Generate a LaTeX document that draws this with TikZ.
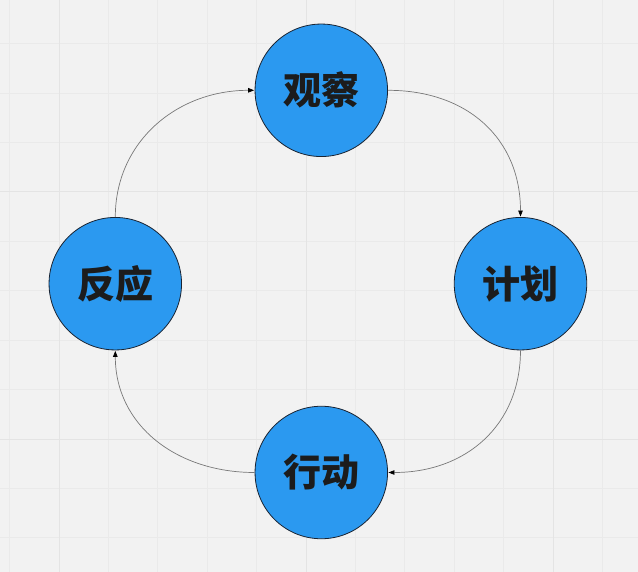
\documentclass[tikz,border=0pt]{standalone}
\usepackage{fontspec}
\newfontfamily\cjk{Noto Sans CJK SC}
\usetikzlibrary{arrows.meta}
\definecolor{bgc}{RGB}{242,242,242}
\definecolor{gridminor}{RGB}{234,234,234}
\definecolor{gridmajor}{RGB}{228,228,228}
\definecolor{circfill}{RGB}{43,153,240}
\definecolor{circline}{RGB}{25,35,50}
\definecolor{linkc}{RGB}{120,120,120}
\definecolor{txtc}{RGB}{28,28,28}
\tikzset{
  stage/.style={circle, draw=circline, line width=0.8pt, fill=circfill,
    minimum size=132.5pt, inner sep=0pt,
    font=\cjk\bfseries\fontsize{38}{40}\selectfont, text=txtc},
  link/.style={draw=linkc, line width=0.7pt,
    -{Triangle[length=6pt,width=4.5pt,color=black]}, shorten >=0.5pt}
}
\begin{document}
\begin{tikzpicture}[x=1pt,y=-1pt]
\fill[bgc] (0,0) rectangle (638,572);
\useasboundingbox (0,0) rectangle (638,572);
% grid
\foreach \i in {0,...,12} {
  \pgfmathsetmacro{\gx}{9.6+49.4*\i}
  \draw[gridminor, line width=1pt] (\gx,0) -- (\gx,572);
}
\foreach \i in {0,...,11} {
  \pgfmathsetmacro{\gy}{43.8+49.4*\i}
  \draw[gridminor, line width=1pt] (0,\gy) -- (638,\gy);
}
\foreach \gx in {59,306,553} \draw[gridmajor, line width=1pt] (\gx,0) -- (\gx,572);
\foreach \gy in {192,439} \draw[gridmajor, line width=1pt] (0,\gy) -- (638,\gy);
% nodes
\node[stage] (obs) at (321.3,90.3) {观察};
\node[stage] (plan) at (520.5,283.7) {计划};
\node[stage] (act) at (321.3,472.5) {行动};
\node[stage] (react) at (115.3,283.7) {反应};
% connectors
\draw[link] (obs.east) .. controls +(80,0) and +(0,-78) .. (plan.north);
\draw[link] (plan.south) .. controls +(0,75) and +(78,0) .. (act.east);
\draw[link] (act.west) .. controls +(-78,0) and +(0,75) .. (react.south);
\draw[link] (react.north) .. controls +(0,-75) and +(-78,0) .. (obs.west);
\end{tikzpicture}
\end{document}
